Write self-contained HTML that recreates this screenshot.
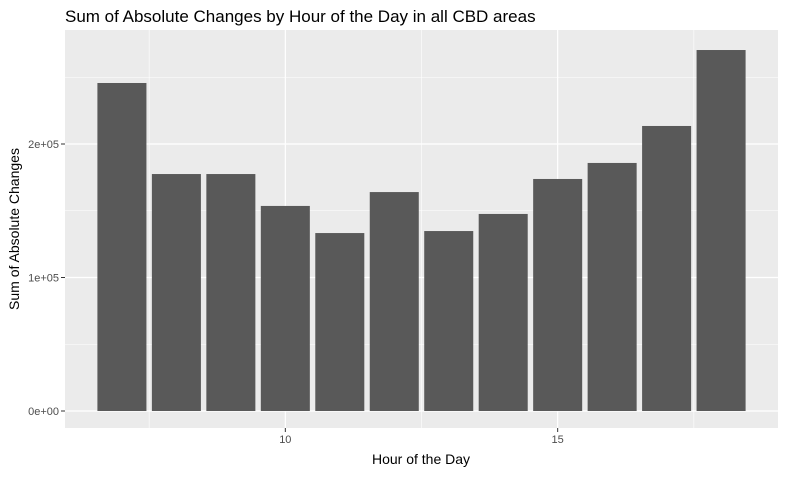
<!DOCTYPE html>
<html><head><meta charset="utf-8"><style>
body{margin:0;background:#fff;font-family:"Liberation Sans",sans-serif;}
</style></head><body>
<svg id="chart" width="786" height="474" xmlns="http://www.w3.org/2000/svg">
<text x="65" y="22" font-size="17" fill="#000">Sum of Absolute Changes by Hour of the Day in all CBD areas</text>
<rect x="65" y="30" width="713" height="398" fill="#EBEBEB"/>
<g id="grid"></g><g id="bars"></g><g id="axes"></g>
<text x="421" y="464" font-size="14" text-anchor="middle" fill="#000">Hour of the Day</text>
<text transform="translate(19,229) rotate(-90)" font-size="14" text-anchor="middle" fill="#000">Sum of Absolute Changes</text>
</svg>
<script>
const hours=[7,8,9,10,11,12,13,14,15,16,17,18];
const values=[245700,177500,177500,153600,133300,164000,134800,147600,173800,185800,213500,270400];
const xTicks=[10,15];
const xTickLabels=["10","15"];
const yTicks=[0,100000,200000];
const yTickLabels=["0e+00","1e+05","2e+05"];
const xMinor=[7.5,12.5,17.5];
const yMinor=[50000,150000,250000];
const NS="http://www.w3.org/2000/svg";
const px0=65,px1=778,py0=30,py1=428;
const xmin=5.955,xmax=19.045,ymin=-12734,ymax=285393;
const X=v=>px0+(v-xmin)/(xmax-xmin)*(px1-px0);
const Y=v=>py1-(v-ymin)/(ymax-ymin)*(py1-py0);
function mk(t,a,p){const e=document.createElementNS(NS,t);for(const k in a)e.setAttribute(k,a[k]);p.appendChild(e);return e;}
const grid=document.getElementById('grid'),bars=document.getElementById('bars'),axes=document.getElementById('axes');
xMinor.forEach(v=>{const l=mk('line',{x1:X(v),x2:X(v),y1:py0,y2:py1,stroke:'#fff','stroke-width':0.6},grid);

});
yMinor.forEach(v=>{const l=mk('line',{x1:px0,x2:px1,y1:Y(v),y2:Y(v),stroke:'#fff','stroke-width':0.6},grid);

});
xTicks.forEach((v,i)=>{const l=mk('line',{x1:X(v),x2:X(v),y1:py0,y2:py1,stroke:'#fff','stroke-width':1.2},grid);


mk('line',{x1:X(v),x2:X(v),y1:py1,y2:py1+4,stroke:'#333'},axes);
const t=mk('text',{x:X(v),y:py1+15,'font-size':11,'text-anchor':'middle',fill:'#4D4D4D'},axes);t.textContent=xTickLabels[i];

});
yTicks.forEach((v,i)=>{const l=mk('line',{x1:px0,x2:px1,y1:Y(v),y2:Y(v),stroke:'#fff','stroke-width':1.2},grid);


mk('line',{x1:px0-4,x2:px0,y1:Y(v),y2:Y(v),stroke:'#333'},axes);
const t=mk('text',{x:px0-6,y:Y(v)+4,'font-size':11,'text-anchor':'end',fill:'#4D4D4D'},axes);t.textContent=yTickLabels[i];

});
hours.forEach((h,i)=>{const x0=X(h-0.45),x1=X(h+0.45);
const r=mk('rect',{x:x0,y:Y(values[i]),width:x1-x0,height:Y(0)-Y(values[i]),fill:'#595959'},bars);

});
</script>
</body></html>
